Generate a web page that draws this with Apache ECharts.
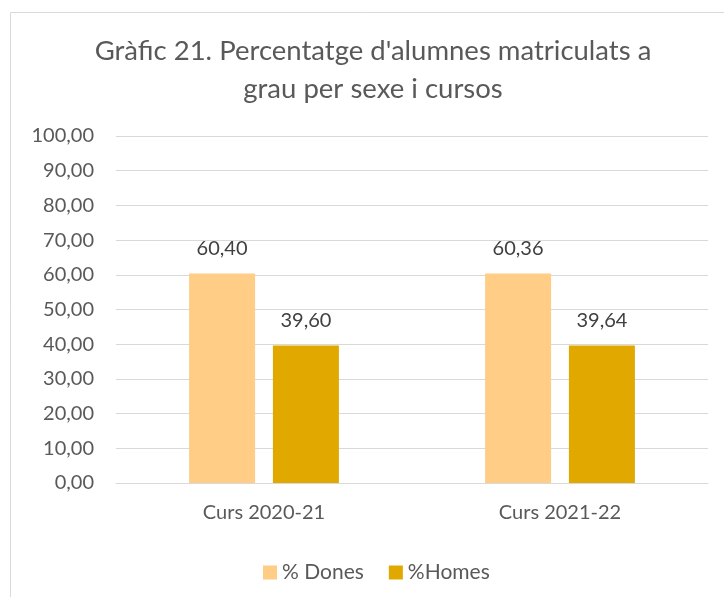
<!DOCTYPE html>
<html>
<head>
<meta charset="utf-8">
<script src="https://cdn.jsdelivr.net/npm/echarts@6/dist/echarts.min.js"></script>
<style>
  html, body { margin: 0; padding: 0; background: #fff; }
  #main { width: 724px; height: 597px; }
</style>
</head>
<body>
<div id="main"></div>
<script>
// dades del gràfic
const cursos = ['Curs 2020-21', 'Curs 2021-22'];
const dones = [60.40, 60.36];
const homes = [39.60, 39.64];
const yTicks = [0, 100, 10]; // min, max, interval

const fmt = v => Number(v).toFixed(2).replace('.', ',');
const FONT = 'Lato, "Open Sans", sans-serif';

const chart = echarts.init(document.getElementById('main'));

const option = {
    backgroundColor: '#fff',
    animation: false,
    title: {
        text: "Gràfic 21. Percentatge d'alumnes matriculats a\ngrau per sexe i cursos",
        left: 373,
        textAlign: 'center',
        top: 32,
        padding: 0,
        textStyle: {
            color: '#595959',
            fontFamily: FONT,
            fontWeight: 'normal',
            fontSize: 27.5,
            lineHeight: 38
        }
    },
    graphic: [{
        type: 'rect',
        shape: { x: 10.5, y: 12.5, width: 740, height: 620 },
        style: { fill: 'none', stroke: '#D9D9D9', lineWidth: 1 },
        silent: true
    }],
    legend: {
        left: 258,
        top: 557,
        itemWidth: 14,
        itemHeight: 14,
        itemGap: 25,
        icon: 'rect',
        textStyle: { color: '#595959', fontFamily: FONT, fontSize: 21 },
        data: ['% Dones', '%Homes']
    },
    grid: { left: 116, right: 16, top: 136, bottom: 114 },
    xAxis: {
        type: 'category',
        data: cursos,
        axisLine: { lineStyle: { color: '#D9D9D9', width: 1 } },
        axisTick: { show: false },
        axisLabel: { color: '#595959', fontFamily: FONT, fontSize: 20, margin: 20 }
    },
    yAxis: {
        type: 'value',
        min: yTicks[0],
        max: yTicks[1],
        interval: yTicks[2],
        axisLine: { show: false },
        axisTick: { show: false },
        splitLine: { lineStyle: { color: '#D9D9D9', width: 1 } },
        axisLabel: {
            color: '#595959', fontFamily: FONT, fontSize: 20, margin: 22,
            formatter: v => fmt(v)
        }
    },
    series: [
        {
            name: '% Dones',
            type: 'bar',
            data: dones,
            barWidth: 66,
            barGap: '27%',
            itemStyle: { color: '#FFCD85' },
            label: {
                show: true, position: 'top', distance: 15,
                color: '#404040', fontFamily: FONT, fontSize: 20,
                formatter: p => fmt(p.value)
            }
        },
        {
            name: '%Homes',
            type: 'bar',
            data: homes,
            barWidth: 66,
            itemStyle: { color: '#E1A800' },
            label: {
                show: true, position: 'top', distance: 15,
                color: '#404040', fontFamily: FONT, fontSize: 20,
                formatter: p => fmt(p.value)
            }
        }
    ]
};

chart.setOption(option);
</script>
</body>
</html>
